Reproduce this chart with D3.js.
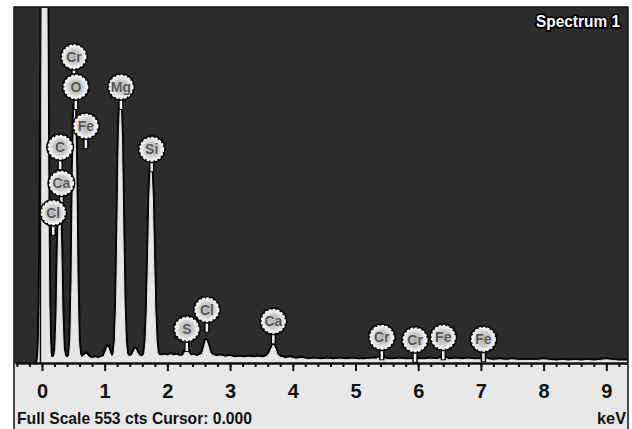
<!DOCTYPE html>
<html>
<head>
<meta charset="utf-8">
<script src="https://cdn.jsdelivr.net/npm/d3@7"></script>
<style>
  body { margin: 0; background: #fff; }
  svg { display: block; font-family: "Liberation Sans", Arial, sans-serif; }
</style>
</head>
<body>
<div id="chart"></div>
<script>
// EDS spectrum, counts ([keV, counts])
var spectrum = [
  [-0.07, 0], [-0.06, 6], [-0.05, 17], [-0.04, 43], [-0.03, 95], [-0.02, 190], [-0.01, 342],
  [0.00, 553], [0.01, 804], [0.02, 1050], [0.03, 1232], [0.04, 1300], [0.05, 1232], [0.06, 1050],
  [0.07, 804], [0.08, 553], [0.09, 342], [0.10, 190], [0.11, 95], [0.12, 43], [0.13, 17], [0.14, 10],
  [0.16, 8], [0.18, 9], [0.20, 10], [0.22, 21], [0.24, 75], [0.26, 182], [0.28, 248], [0.30, 182],
  [0.32, 75], [0.34, 23], [0.36, 12], [0.38, 9], [0.40, 8], [0.42, 9], [0.44, 12], [0.46, 35],
  [0.48, 128], [0.50, 300], [0.52, 400], [0.54, 300], [0.56, 128], [0.58, 35], [0.60, 14],
  [0.62, 10], [0.64, 9], [0.68, 12], [0.70, 14], [0.72, 12], [0.76, 8], [0.80, 7], [0.85, 8],
  [0.90, 7], [0.95, 9], [0.99, 10], [1.02, 18], [1.05, 25], [1.08, 16], [1.11, 10], [1.13, 11],
  [1.15, 15], [1.17, 35], [1.19, 93], [1.21, 208], [1.23, 342], [1.25, 405], [1.27, 342],
  [1.29, 208], [1.31, 93], [1.33, 35], [1.35, 15], [1.37, 11], [1.40, 10], [1.44, 12], [1.47, 18],
  [1.49, 22], [1.51, 17], [1.55, 11], [1.59, 10], [1.62, 11], [1.64, 16], [1.66, 35], [1.68, 83],
  [1.70, 167], [1.72, 260], [1.74, 302], [1.76, 260], [1.78, 167], [1.80, 83], [1.82, 35],
  [1.84, 16], [1.86, 12], [1.90, 11], [1.95, 12], [2.00, 11], [2.05, 13], [2.10, 11], [2.15, 12],
  [2.20, 10], [2.25, 11], [2.28, 16], [2.31, 21], [2.34, 15], [2.38, 11], [2.42, 12], [2.47, 10],
  [2.52, 12], [2.56, 14], [2.59, 25], [2.62, 35], [2.65, 26], [2.68, 16], [2.72, 12], [2.78, 10],
  [2.85, 11], [2.92, 9], [3.00, 10], [3.08, 8], [3.15, 9], [3.22, 8], [3.30, 9], [3.38, 8],
  [3.45, 9], [3.52, 8], [3.58, 10], [3.63, 15], [3.66, 22], [3.69, 28], [3.72, 22], [3.75, 13],
  [3.80, 9], [3.88, 7], [3.96, 8], [4.05, 6], [4.15, 7], [4.25, 5], [4.35, 6], [4.45, 5],
  [4.55, 6], [4.65, 5], [4.75, 6], [4.85, 5], [4.95, 6], [5.05, 5], [5.15, 5], [5.25, 6],
  [5.33, 6], [5.38, 8], [5.41, 10], [5.44, 8], [5.50, 5], [5.60, 5], [5.70, 6], [5.80, 5],
  [5.90, 5], [5.95, 7], [6.00, 5], [6.10, 5], [6.20, 6], [6.30, 5], [6.36, 7], [6.40, 9],
  [6.44, 7], [6.50, 5], [6.60, 6], [6.70, 5], [6.80, 6], [6.90, 5], [7.00, 5], [7.06, 7],
  [7.12, 5], [7.20, 4], [7.30, 5], [7.40, 4], [7.50, 5], [7.60, 4], [7.70, 4], [7.80, 4],
  [7.90, 4], [8.00, 5], [8.10, 4], [8.20, 3], [8.30, 4], [8.40, 3], [8.50, 4], [8.60, 3],
  [8.70, 4], [8.80, 3], [8.90, 4], [9.00, 5], [9.10, 4], [9.20, 3], [9.33, 3]
];

// element markers: name, energy (keV), height of the marker (counts)
var markerNames = ["Cr", "O", "Mg", "Fe", "C", "Si", "Ca", "Cl", "S", "Cl", "Ca", "Cr", "Cr", "Fe", "Fe"];
var markerKeV = [0.51, 0.54, 1.26, 0.70, 0.29, 1.75, 0.31, 0.18, 2.31, 2.63, 3.69, 5.42, 5.95, 6.40, 7.04];
var markerCounts = [477, 430, 430, 369, 336, 333, 280, 234, 53, 83, 65, 40, 36, 40, 37];

var majorTicks = [0, 1, 2, 3, 4, 5, 6, 7, 8, 9];
var fullScale = 553;
var cursor = 0.000;

var svgWidth = 632;
var svgHeight = 429;

var plot = { left: 15, right: 627, top: 8, bottom: 363 };

var svg = d3.select("#chart")
  .append("svg")
  .attr("width", svgWidth)
  .attr("height", svgHeight);

var defs = svg.append("defs");

var grad = defs.append("radialGradient")
  .attr("id", "ball");
grad.append("stop").attr("offset", "0%").attr("stop-color", "#adadad");
grad.append("stop").attr("offset", "60%").attr("stop-color", "#cbcbcb");
grad.append("stop").attr("offset", "100%").attr("stop-color", "#f8f8f8");

defs.append("clipPath")
  .attr("id", "plotClip")
  .append("rect")
  .attr("x", plot.left)
  .attr("y", plot.top)
  .attr("width", plot.right - plot.left)
  .attr("height", plot.bottom - plot.top);

// scales
var xScale = d3.scaleLinear()
  .domain([-0.43, 9.33])
  .range([plot.left, plot.right]);

var yScale = d3.scaleLinear()
  .domain([0, fullScale])
  .range([plot.bottom, plot.top]);

// frame and panels
svg.append("rect")
  .attr("x", 14)
  .attr("y", 7)
  .attr("width", 614)
  .attr("height", 423)
  .attr("fill", "#2c2c2c")
  .attr("stroke", "#111")
  .attr("stroke-width", 1.5);

svg.append("rect")
  .attr("x", 14.75)
  .attr("y", plot.bottom)
  .attr("width", 612.5)
  .attr("height", svgHeight - plot.bottom)
  .attr("fill", "#e8e8e8");

// spectrum: dark halo underneath, light fill on top
var specGroup = svg.append("g").attr("clip-path", "url(#plotClip)");

var area = d3.area()
  .x(d => xScale(d[0]))
  .y0(plot.bottom)
  .y1(d => yScale(d[1]));

var line = d3.line()
  .x(d => xScale(d[0]))
  .y(d => yScale(d[1]));

specGroup.append("path")
  .datum(spectrum)
  .attr("d", line)
  .attr("fill", "none")
  .attr("stroke", "#050505")
  .attr("stroke-width", 5)
  .attr("stroke-linejoin", "round");

specGroup.append("path")
  .datum(spectrum)
  .attr("d", area)
  .attr("fill", "#e6e6e6")
  .attr("stroke", "#e6e6e6")
  .attr("stroke-width", 1);

// cursor line
svg.append("line")
  .attr("x1", xScale(cursor) - 1.5)
  .attr("x2", xScale(cursor) - 1.5)
  .attr("y1", plot.top)
  .attr("y2", plot.bottom)
  .attr("stroke", "#111")
  .attr("stroke-width", 1.5);

// axes
var minorTicks = d3.range(-4, 94, 2).map(d => d / 10);

svg.append("g")
  .attr("transform", `translate(0, ${plot.bottom})`)
  .call(d3.axisBottom(xScale).tickValues(minorTicks).tickSize(4).tickFormat(""))
  .call(g => g.select(".domain").remove())
  .call(g => g.selectAll("line").attr("stroke", "#111").attr("stroke-width", 2));

var xAxis = svg.append("g")
  .attr("transform", `translate(0, ${plot.bottom})`)
  .call(d3.axisBottom(xScale).tickValues(majorTicks).tickSize(8).tickSizeOuter(0).tickPadding(13));

xAxis.select(".domain")
  .attr("stroke", "#111")
  .attr("stroke-width", 2.5);
xAxis.selectAll("line")
  .attr("stroke", "#111")
  .attr("stroke-width", 2);
xAxis.selectAll("text")
  .attr("fill", "#111")
  .attr("font-size", "20px")
  .attr("font-weight", "bold")
  .attr("font-family", "'Liberation Sans', Arial, sans-serif");

// footer texts
svg.append("text")
  .attr("x", 17)
  .attr("y", 424)
  .attr("font-size", "17px")
  .attr("font-weight", "bold")
  .attr("fill", "#111")
  .attr("textLength", 235)
  .attr("lengthAdjust", "spacingAndGlyphs")
  .text(`Full Scale ${fullScale} cts Cursor: ${cursor.toFixed(3)}`);

svg.append("text")
  .attr("x", 597)
  .attr("y", 424)
  .attr("font-size", "17px")
  .attr("font-weight", "bold")
  .attr("fill", "#111")
  .attr("textLength", 29)
  .attr("lengthAdjust", "spacingAndGlyphs")
  .text("keV");

svg.append("text")
  .attr("x", 536)
  .attr("y", 27)
  .attr("font-size", "16px")
  .attr("font-weight", "bold")
  .attr("fill", "#fff")
  .attr("stroke", "#000")
  .attr("stroke-width", 3.5)
  .attr("paint-order", "stroke")
  .attr("textLength", 84)
  .attr("lengthAdjust", "spacingAndGlyphs")
  .text("Spectrum 1");

// element markers
var markers = markerNames.map((name, i) => ({ name: name, keV: markerKeV[i], counts: markerCounts[i] }));

var markerGroup = svg.selectAll(".marker")
  .data(markers)
  .enter()
  .append("g")
  .attr("class", "marker")
  .attr("transform", d => `translate(${xScale(d.keV)}, ${yScale(d.counts)})`);

markerGroup.append("line")
  .attr("y1", 10).attr("y2", 23)
  .attr("stroke", "#0a0a0a").attr("stroke-width", 5.5);

markerGroup.append("line")
  .attr("y1", 10).attr("y2", 22)
  .attr("stroke", "#eeeeee").attr("stroke-width", 2.5);

markerGroup.append("circle")
  .attr("r", 14)
  .attr("fill", "#0a0a0a");

markerGroup.append("circle")
  .attr("r", 11.5)
  .attr("fill", "url(#ball)")
  .attr("stroke", "#f6f6f6")
  .attr("stroke-width", 2)
  .attr("stroke-dasharray", "2.6,1.5");

markerGroup.append("text")
  .attr("text-anchor", "middle")
  .attr("dy", "0.36em")
  .attr("font-size", "14px")
  .attr("font-weight", "bold")
  .attr("fill", "#555")
  .attr("stroke", "#e4e4e4")
  .attr("stroke-width", 0.7)
  .attr("paint-order", "stroke")
  .text(d => d.name);
</script>
</body>
</html>
